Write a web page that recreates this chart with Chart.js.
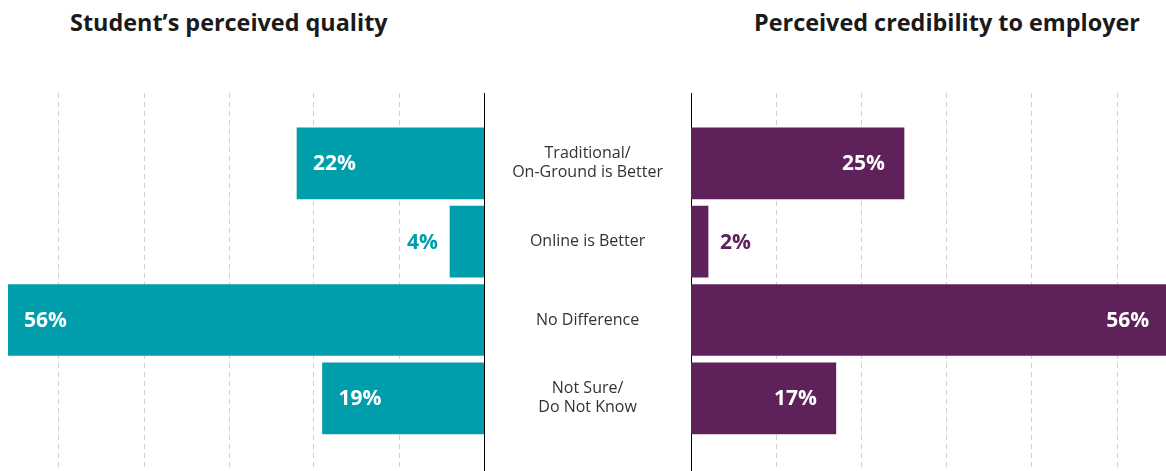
<!DOCTYPE html>
<html>
<head>
<meta charset="utf-8">
<script src="https://cdn.jsdelivr.net/npm/chart.js@4.4.1/dist/chart.umd.min.js"></script>
<style>
  body { margin: 0; background: #fff; font-family: "Open Sans", sans-serif; }
  #wrap { position: relative; width: 1166px; height: 471px; overflow: hidden; }
  .title { position: absolute; top: 6px; font-weight: 700; font-size: 23.4px; color: #1a1a1a; white-space: nowrap; }
  canvas { position: absolute; top: 0; }
</style>
</head>
<body>
<div id="wrap">
  <div class="title" style="left:70px">Student’s perceived quality</div>
  <div class="title" style="left:754px">Perceived credibility to employer</div>
  <canvas id="left" width="486" height="471" style="left:0"></canvas>
  <canvas id="right" width="682" height="471" style="left:484px"></canvas>
</div>
<script>
const categories = [["Traditional/", "On-Ground is Better"], "Online is Better", "No Difference", ["Not Sure/", "Do Not Know"]];
const studentQuality = [22, 4, 56, 19];
const employerCredibility = [25, 2, 56, 17];
const gridTicks = [10, 20, 30, 40, 50];

const teal = "#009eab";
const purple = "#5e2159";

// value labels: inside the bar in white, or outside in bar colour when the bar is short
const valueLabels = {
  id: "valueLabels",
  afterDatasetsDraw(chart, args, opts) {
    const ctx = chart.ctx;
    const meta = chart.getDatasetMeta(0);
    const values = chart.data.datasets[0].data;
    ctx.save();
    ctx.font = "bold 21px 'Open Sans'";
    ctx.textBaseline = "middle";
    meta.data.forEach((bar, i) => {
      const v = values[i].x;
      const text = v + "%";
      const inside = v >= 10;
      const dir = opts.side === "left" ? -1 : 1;
      let x;
      if (inside) {
        ctx.fillStyle = "#fff";
        ctx.textAlign = opts.side === "left" ? "left" : "right";
        x = bar.x - dir * opts.inPad;
      } else {
        ctx.fillStyle = opts.color;
        ctx.textAlign = opts.side === "left" ? "right" : "left";
        x = bar.x + dir * 12;
      }
      ctx.fillText(text, x, bar.y + 1);
    });
    ctx.restore();
  }
};

function rowY(scale) {
  scale.ticks = [0, 1, 2, 3].map(v => ({ value: v }));
}

function xGrid(scale) {
  scale.ticks = gridTicks.map(v => ({ value: v }));
}

new Chart(document.getElementById("left"), {
  type: "bar",
  data: {
    datasets: [{
      data: studentQuality.map((v, i) => ({ x: v, y: i })),
      backgroundColor: teal,
      barThickness: 71
    }]
  },
  plugins: [valueLabels],
  options: {
    indexAxis: "y",
    responsive: false,
    animation: false,
    layout: { padding: { left: 8, top: 93, right: 2, bottom: 0 } },
    plugins: {
      legend: { display: false },
      tooltip: { enabled: false },
      valueLabels: { side: "left", color: teal, inPad: 16 }
    },
    scales: {
      x: {
        type: "linear", reverse: true, min: 0, max: 56,
        afterBuildTicks: xGrid,
        afterFit: s => { s.height = 0; },
        ticks: { display: false },
        grid: { color: "#d0d0d0", drawTicks: false },
        border: { display: false, dash: [5, 4] }
      },
      y: {
        type: "linear", position: "right", reverse: true, offset: false,
        min: -0.898, max: 3.928,
        afterBuildTicks: rowY,
        afterFit: s => { s.width = 0; s.paddingTop = 0; s.paddingBottom = 0; },
        ticks: { display: false },
        grid: { display: false, drawTicks: false, offset: false },
        border: { display: true, color: "#000", width: 1 }
      }
    }
  }
});

new Chart(document.getElementById("right"), {
  type: "bar",
  data: {
    datasets: [{
      data: employerCredibility.map((v, i) => ({ x: v, y: i })),
      backgroundColor: purple,
      barThickness: 71
    }]
  },
  plugins: [valueLabels],
  options: {
    indexAxis: "y",
    responsive: false,
    animation: false,
    layout: { padding: { left: 0, top: 93, right: 0, bottom: 0 } },
    plugins: {
      legend: { display: false },
      tooltip: { enabled: false },
      valueLabels: { side: "right", color: purple, inPad: 19 }
    },
    scales: {
      x: {
        type: "linear", min: 0, max: 55.75,
        afterBuildTicks: xGrid,
        afterFit: s => { s.height = 0; },
        ticks: { display: false },
        grid: { color: "#d0d0d0", drawTicks: false },
        border: { display: false, dash: [5, 4] }
      },
      y: {
        type: "linear", position: "left", reverse: true, offset: false,
        min: -0.898, max: 3.928,
        afterBuildTicks: rowY,
        afterFit: s => { s.width = 207; s.paddingTop = 0; s.paddingBottom = 0; },
        ticks: {
          crossAlign: "center",
          padding: 28,
          color: "#333",
          font: { family: "'Open Sans'", size: 16, lineHeight: 1.2 },
          callback: v => categories[v]
        },
        grid: { display: false, drawTicks: false, offset: false },
        border: { display: true, color: "#000", width: 1 }
      }
    }
  }
});
</script>
</body>
</html>
